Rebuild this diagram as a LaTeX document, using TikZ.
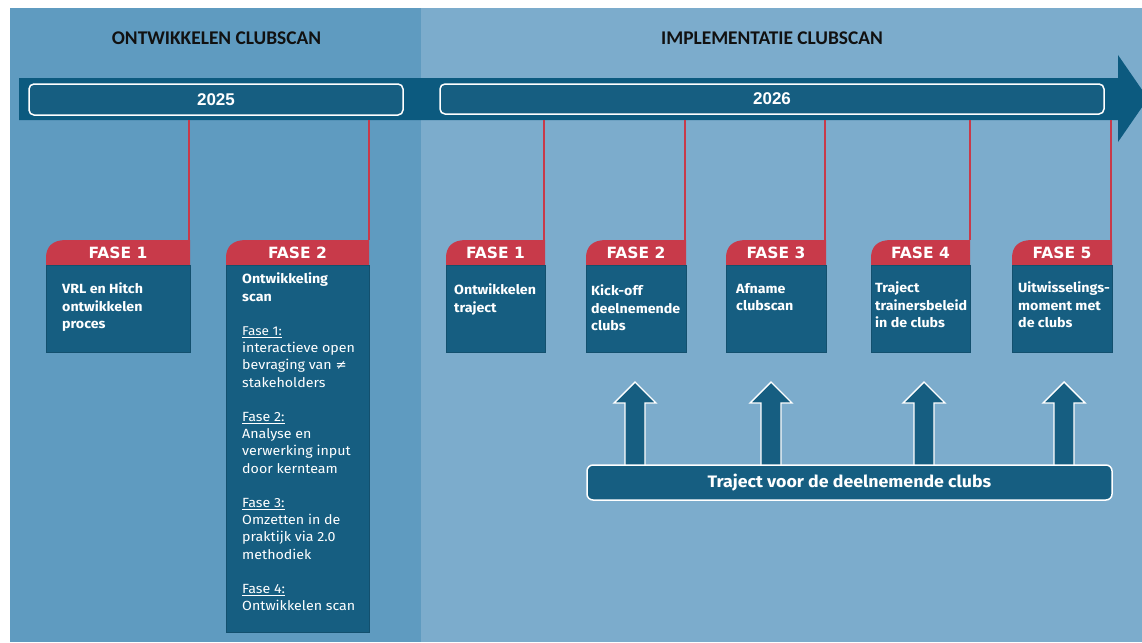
\documentclass[tikz,border=0pt]{standalone}
\usepackage{fontspec}
\setmainfont[FakeStretch=1.07]{Fira Sans}
\newfontfamily\titlefont{Carlito}
\newfontfamily\yearfont{Liberation Sans}
\newfontfamily\tabfont{DejaVu Sans}
\newfontfamily\symfont{DejaVu Sans}
\definecolor{leftbg}{HTML}{5F9BC0}
\definecolor{rightbg}{HTML}{7CACCC}
\definecolor{bandc}{HTML}{0C5A7F}
\definecolor{boxc}{HTML}{165E81}
\definecolor{redc}{HTML}{C83A4A}
\definecolor{titlec}{HTML}{111111}
\tikzset{
  yearbox/.style={draw=white, line width=1.5pt, fill=boxc, rounded corners=5pt, inner sep=0pt, outer sep=0pt, text=white, font=\yearfont\bfseries\fontsize{17}{19}\selectfont},
  bodybox/.style={draw=boxc!85!black, line width=0.6pt, fill=boxc, inner sep=0pt, outer sep=0pt, anchor=north west},
  tabtext/.style={text=white, font=\tabfont\bfseries\fontsize{15.5}{17}\selectfont, inner sep=0pt},
  bodytext/.style={text=white, anchor=north west, inner sep=0pt, align=left, font=\bfseries\fontsize{13.3}{17.2}\selectfont},
  redline/.style={draw=redc, line width=2pt},
  title/.style={text=titlec, font=\titlefont\bfseries\fontsize{19.4}{22}\selectfont},
  uparrow/.style={fill=boxc, draw=white, line width=1.4pt, line join=miter},
  trajbox/.style={draw=white, line width=1.5pt, fill=boxc, rounded corners=6pt, inner sep=0pt, outer sep=0pt, text=white, font=\bfseries\fontsize{16.6}{18}\selectfont}
}
\newcommand\phasebox[5]{%
  \fill[redc] (#2,265) -- (#2,258) .. controls (#2,247) and ({#2+6},240) .. ({#2+20},240) -- (#3,240) -- (#3,265) -- cycle;
  \node[tabtext] (#1t) at ({(#2+#3)/2},252.5) {#5};
  \coordinate (#1c) at (#3,240);
  \node[bodybox, minimum width={#3-#2}, minimum height={#4-265}] (#1) at (#2,265) {};
}
\begin{document}
\begin{tikzpicture}[x=1pt,y=-1pt]
\useasboundingbox (0,0) rectangle (1142,642);
\fill[white] (0,0) rectangle (1142,642);
\clip (0,0) rectangle (1142,642);
\fill[leftbg] (10,8) rectangle (421,642);
\fill[rightbg] (421,8) rectangle (1142,642);
% titles
\node[title] (t1) at (216.5,38) {ONTWIKKELEN CLUBSCAN};
\node[title] (t2) at (772,38) {IMPLEMENTATIE CLUBSCAN};
% timeline band
\fill[bandc] (19,78) -- (1118,78) -- (1118,55) -- (1148,98.5) -- (1118,142) -- (1118,120) -- (19,120) -- cycle;
\node[yearbox, minimum width=374pt, minimum height=31pt] (y2025) at (216,99.5) {2025};
\node[yearbox, minimum width=664pt, minimum height=30pt] (y2026) at (772,99) {2026};
% band anchor points
\coordinate (b1) at (189,120);
\coordinate (b2) at (368.5,120);
\coordinate (b3) at (544,120);
\coordinate (b4) at (685,120);
\coordinate (b5) at (825,120);
\coordinate (b6) at (969.5,120);
\coordinate (b7) at (1111,120);
% phases
\phasebox{p1}{46}{190}{352}{FASE 1}
\phasebox{p2}{226}{369}{632}{FASE 2}
\phasebox{q1}{446}{545}{352}{FASE 1}
\phasebox{q2}{586}{686}{352}{FASE 2}
\phasebox{q3}{726}{826}{352}{FASE 3}
\phasebox{q4}{871}{970}{352}{FASE 4}
\phasebox{q5}{1012}{1112}{352}{FASE 5}
% red connectors
\draw[redline] (b1) -- (b1 |- p1c);
\draw[redline] (b2) -- (b2 |- p2c);
\draw[redline] (b3) -- (b3 |- q1c);
\draw[redline] (b4) -- (b4 |- q2c);
\draw[redline] (b5) -- (b5 |- q3c);
\draw[redline] (b6) -- (b6 |- q4c);
\draw[redline] (b7) -- (b7 |- q5c);
% body texts
\node[bodytext] (p1x) at (62,283) {VRL en Hitch\\ontwikkelen\\proces};
\node[bodytext] (p2x) at (242,273) {Ontwikkeling\\scan\\[17.2pt]
\mdseries\fontsize{12.7}{17.2}\selectfont\underline{Fase 1:}\\
\mdseries interactieve open\\
\mdseries bevraging van {\symfont ≠}\\
\mdseries stakeholders\\[17.2pt]
\mdseries\underline{Fase 2:}\\
\mdseries Analyse en\\
\mdseries verwerking input\\
\mdseries door kernteam\\[17.2pt]
\mdseries\underline{Fase 3:}\\
\mdseries Omzetten in de\\
\mdseries praktijk via 2.0\\
\mdseries methodiek\\[17.2pt]
\mdseries\underline{Fase 4:}\\
\mdseries Ontwikkelen scan};
\node[bodytext] (q1x) at (454,284) {Ontwikkelen\\traject};
\node[bodytext] (q2x) at (591,285) {Kick-off\\deelnemende\\clubs};
\node[bodytext] (q3x) at (736,283) {Afname\\clubscan};
\node[bodytext] (q4x) at (875,282) {Traject\\trainersbeleid\\in de clubs};
\node[bodytext] (q5x) at (1018,282) {Uitwisselings-\\moment met\\de clubs};
% up arrows (behind the traject box)
\foreach \c/\n in {635/a1,771/a2,924/a3,1064/a4}{
  \coordinate (\n) at (\c,465);
  \filldraw[uparrow] ({\c-10},467) -- ({\c-10},403) -- ({\c-21},403) -- (\c,382) -- ({\c+21},403) -- ({\c+10},403) -- ({\c+10},467);
}
% traject box
\node[trajbox, minimum width=525pt, minimum height=35pt] (traj) at (849.5,482.5) {Traject voor de deelnemende clubs};
\end{tikzpicture}
\end{document}
